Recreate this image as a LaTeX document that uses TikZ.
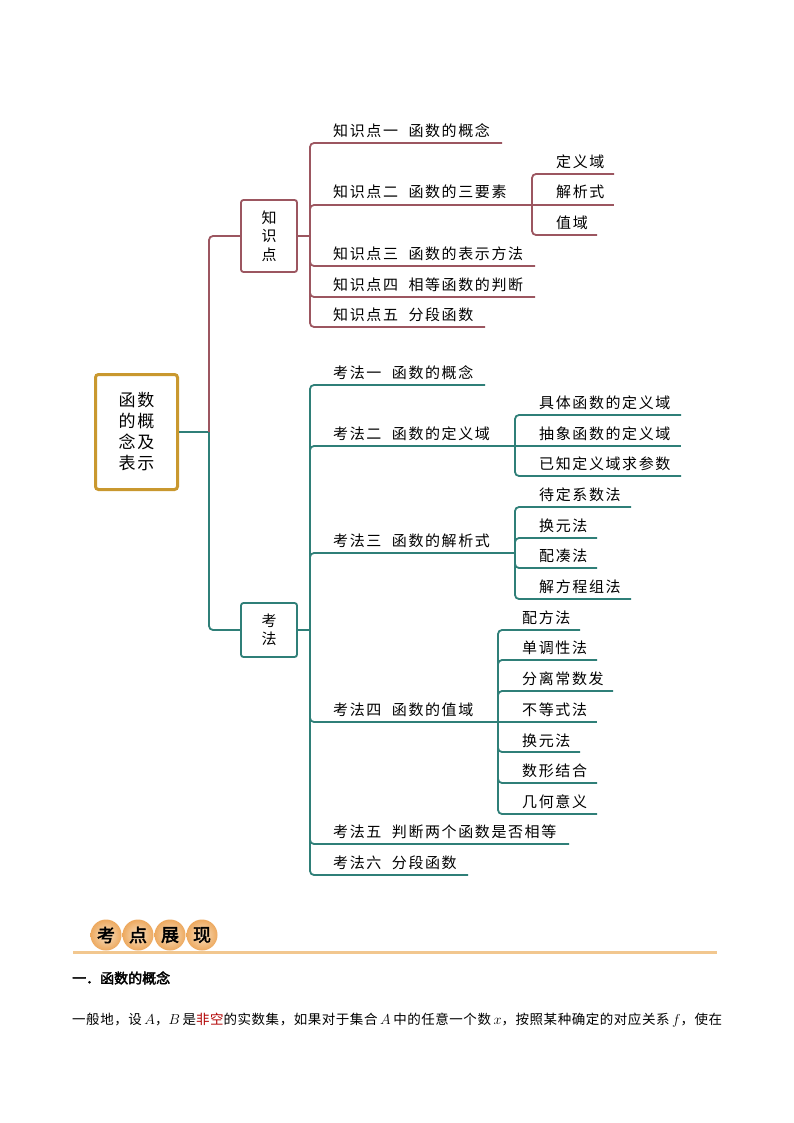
\documentclass[tikz,border=0pt]{standalone}
\usepackage{fontspec}
\usetikzlibrary{shadings,shapes.geometric}
\newfontfamily\cjk[LetterSpace=10.7]{Noto Sans CJK SC}
\newfontfamily\cjkplain[LetterSpace=4]{Noto Sans CJK SC}
\newfontfamily\cjkbold[BoldFont=*,FakeBold=2.5]{Noto Sans CJK SC}
\newcommand{\labgap}{\hspace{10.5pt}}
\newcommand{\symgap}{\hspace{2.6pt}}
\definecolor{rootgold}{HTML}{C9982F}
\definecolor{kpred}{HTML}{9C5660}
\definecolor{methteal}{HTML}{2F7F78}
\definecolor{headorange}{HTML}{F2C78F}
\definecolor{balledge}{HTML}{EDA95F}
\tikzset{
  lab/.style={anchor=west,inner sep=0pt,yshift=-0.8pt,font=\cjk\fontsize{15}{18}\selectfont},
  midbox/.style={draw,line width=1.8pt,rounded corners=2.5pt,align=center,inner sep=0pt,
    font=\cjk\fontsize{15}{18.5}\selectfont},
  kpline/.style={kpred,line width=1.8pt,rounded corners=4pt},
  methline/.style={methteal,line width=1.8pt,rounded corners=4pt},
  ball/.style={ellipse,minimum width=31pt,minimum height=31pt,inner sep=0pt,
    inner color=headorange!55!white,outer color=balledge,
    font=\cjkbold\fontsize{18}{18}\selectfont},
}
\begin{document}
\begin{tikzpicture}[x=1pt,y=-1pt]
  \useasboundingbox[fill=white] (0,0) rectangle (794,1123);
  % root and the two boxes
  \node[draw=rootgold,line width=3pt,rounded corners=3pt,minimum width=82pt,minimum height=115pt,
    align=center,inner sep=0pt,font=\cjk\fontsize{17}{21}\selectfont] (root) at (136.5,432)
    {函数\\的概\\念及\\表示};
  \node[midbox,draw=kpred,minimum width=56pt,minimum height=72pt] (kp) at (269,236) {知\\识\\点};
  \node[midbox,draw=methteal,minimum width=56pt,minimum height=54pt] (meth) at (269,630) {考\\法};
  \coordinate (trunk) at (209,432);
  \coordinate (kpj) at (310,236);
  \coordinate (methj) at (310,630);
  \draw[methline] (root.east) -- (trunk);
  \draw[kpline] (trunk) |- (kp.west);
  \draw[methline] (trunk) |- (meth.west);
  \draw[kpline] (kp.east) -- (kpj);
  \draw[methline] (meth.east) -- (methj);

  % knowledge points
  \node[lab] (kp1) at (333,130) {知识点一\labgap 函数的概念};
  \node[lab] (kp2) at (333,191) {知识点二\labgap 函数的三要素};
  \node[lab] (kp3) at (333,253) {知识点三\labgap 函数的表示方法};
  \node[lab] (kp4) at (333,284) {知识点四\labgap 相等函数的判断};
  \node[lab] (kp5) at (333,314) {知识点五\labgap 分段函数};
  \coordinate (kp1e) at (502,143);
  \coordinate (kp2e) at (532,205);
  \coordinate (kp3e) at (535,266);
  \coordinate (kp4e) at (535,297);
  \coordinate (kp5e) at (485,327);
  \draw[kpline] (kpj) |- (kp1e);
  \draw[kpline] (kpj) |- (kp2e);
  \draw[kpline] (kpj) |- (kp3e);
  \draw[kpline] (kpj) |- (kp4e);
  \draw[kpline] (kpj) |- (kp5e);

  \node[lab] (kp21) at (556,161) {定义域};
  \node[lab] (kp22) at (556,191) {解析式};
  \node[lab] (kp23) at (556,222) {值域};
  \coordinate (kp21e) at (614,174);
  \coordinate (kp22e) at (614,205);
  \coordinate (kp23e) at (597,235);
  \draw[kpline] (kp2e) |- (kp21e);
  \draw[kpline] (kp2e) -- (kp22e);
  \draw[kpline] (kp2e) |- (kp23e);

  % methods
  \node[lab] (m1) at (333,372) {考法一\labgap 函数的概念};
  \node[lab] (m2) at (333,433) {考法二\labgap 函数的定义域};
  \node[lab] (m3) at (333,540) {考法三\labgap 函数的解析式};
  \node[lab] (m4) at (333,709) {考法四\labgap 函数的值域};
  \node[lab] (m5) at (333,831) {考法五\labgap 判断两个函数是否相等};
  \node[lab] (m6) at (333,862) {考法六\labgap 分段函数};
  \coordinate (m1e) at (485,385);
  \coordinate (m2e) at (515,446);
  \coordinate (m3e) at (515,553);
  \coordinate (m4e) at (498,722);
  \coordinate (m5e) at (569,844);
  \coordinate (m6e) at (468,875);
  \draw[methline] (methj) |- (m1e);
  \draw[methline] (methj) |- (m2e);
  \draw[methline] (methj) |- (m3e);
  \draw[methline] (methj) |- (m4e);
  \draw[methline] (methj) |- (m5e);
  \draw[methline] (methj) |- (m6e);

  \node[lab] (m21) at (539,402) {具体函数的定义域};
  \node[lab] (m22) at (539,433) {抽象函数的定义域};
  \node[lab] (m23) at (539,463) {已知定义域求参数};
  \coordinate (m21e) at (681,415);
  \coordinate (m22e) at (681,446);
  \coordinate (m23e) at (681,476);
  \draw[methline] (m2e) |- (m21e);
  \draw[methline] (m2e) -- (m22e);
  \draw[methline] (m2e) |- (m23e);

  \node[lab] (m31) at (539,494) {待定系数法};
  \node[lab] (m32) at (539,525) {换元法};
  \node[lab] (m33) at (539,555) {配凑法};
  \node[lab] (m34) at (539,586) {解方程组法};
  \coordinate (m31e) at (631,507);
  \coordinate (m32e) at (597,538);
  \coordinate (m33e) at (597,568);
  \coordinate (m34e) at (631,599);
  \draw[methline] (m3e) |- (m31e);
  \draw[methline] (m3e) |- (m32e);
  \draw[methline] (m3e) |- (m33e);
  \draw[methline] (m3e) |- (m34e);

  \node[lab] (m41) at (522,617) {配方法};
  \node[lab] (m42) at (522,647) {单调性法};
  \node[lab] (m43) at (522,678) {分离常数发};
  \node[lab] (m44) at (522,709) {不等式法};
  \node[lab] (m45) at (522,740) {换元法};
  \node[lab] (m46) at (522,770) {数形结合};
  \node[lab] (m47) at (522,801) {几何意义};
  \coordinate (m41e) at (580,630);
  \coordinate (m42e) at (597,660);
  \coordinate (m43e) at (613,691);
  \coordinate (m44e) at (597,722);
  \coordinate (m45e) at (580,752);
  \coordinate (m46e) at (597,783);
  \coordinate (m47e) at (597,814);
  \draw[methline] (m4e) |- (m41e);
  \draw[methline] (m4e) |- (m42e);
  \draw[methline] (m4e) |- (m43e);
  \draw[methline] (m4e) -- (m44e);
  \draw[methline] (m4e) |- (m45e);
  \draw[methline] (m4e) |- (m46e);
  \draw[methline] (m4e) |- (m47e);

  % heading strip and the text under it
  \coordinate (rulea) at (73,952);
  \coordinate (ruleb) at (717,952);
  \draw[headorange,line width=3pt] (rulea) -- (ruleb);
  \node[ball] (b1) at (106,935) {考};
  \node[ball] (b2) at (138,935) {点};
  \node[ball] (b3) at (170,935) {展};
  \node[ball] (b4) at (202,935) {现};
  \node[anchor=west,inner sep=0pt,font=\cjkbold\fontsize{14}{15}\selectfont] (sect) at (72,978)
    {一．函数的概念};
  \node[anchor=west,inner sep=0pt,font=\cjkplain\fontsize{13.5}{16}\selectfont] (para) at (72,1020)
    {一般地，设\symgap$A$，$B$\symgap 是\textcolor{red!70!black}{非空}的实数集，如果对于集合\symgap$A$\symgap 中的任意一个数\symgap$x$，按照某种确定的对应关系\symgap$f$，使在};
\end{tikzpicture}
\end{document}
